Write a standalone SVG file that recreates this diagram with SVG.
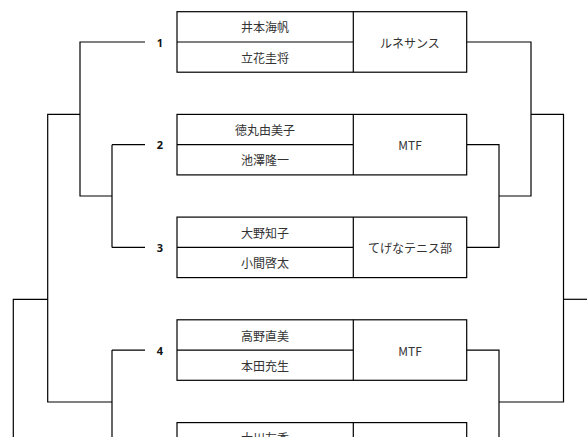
<svg xmlns="http://www.w3.org/2000/svg" width="587" height="437" viewBox="0 0 587 437">
<style>
.box{fill:#fff;stroke:#000;stroke-width:1.2}
.ln{fill:none;stroke:#000;stroke-width:1.2}
.t{font-family:"Noto Sans CJK JP","Noto Sans",sans-serif;font-size:12px;fill:#333;text-anchor:middle;dominant-baseline:central}
.n{font-family:"Noto Sans","Noto Sans CJK JP",sans-serif;font-size:11px;font-weight:bold;fill:#111;text-anchor:middle;dominant-baseline:central}
</style>
<rect width="587" height="437" fill="#fff"/>
<g id="connectors">
<path class="ln" d="M145 42H80V196H112M112 144.7H145M112 247.4H145M112 144.7V247.4"/>
<path class="ln" d="M80 114.3H47.7V402H112M112 350.1H145M112 350.1V437"/>
<path class="ln" d="M47.7 299.3H13.3V437"/>
<path class="ln" d="M466.7 42H531V196H499M466.7 144.7H499V247.4H466.7"/>
<path class="ln" d="M531 114.3H563.5V402H499M466.7 350.1H499V437"/>
<path class="ln" d="M563.5 299.3H587"/>
</g>
<g id="match1">
<rect class="box" x="177" y="11.7" width="289.7" height="60.5"/>
<path class="ln" d="M177 42H353.3M353.3 11.7V72.2"/>
<text class="t" x="265" y="26.9">井本海帆</text>
<text class="t" x="265" y="57.1">立花圭将</text>
<text class="t" x="410" y="42">ルネサンス</text>
<text class="n" x="160" y="42">1</text>
</g>
<g id="match2">
<rect class="box" x="177" y="114.4" width="289.7" height="60.5"/>
<path class="ln" d="M177 144.7H353.3M353.3 114.4V174.9"/>
<text class="t" x="265" y="129.6">徳丸由美子</text>
<text class="t" x="265" y="159.8">池澤隆一</text>
<text class="t" x="410" y="144.7">MTF</text>
<text class="n" x="160" y="144.7">2</text>
</g>
<g id="match3">
<rect class="box" x="177" y="217.1" width="289.7" height="60.5"/>
<path class="ln" d="M177 247.4H353.3M353.3 217.1V277.6"/>
<text class="t" x="265" y="232.3">大野知子</text>
<text class="t" x="265" y="262.5">小間啓太</text>
<text class="t" x="410" y="247.4">てげなテニス部</text>
<text class="n" x="160" y="247.4">3</text>
</g>
<g id="match4">
<rect class="box" x="177" y="319.8" width="289.7" height="60.5"/>
<path class="ln" d="M177 350.1H353.3M353.3 319.8V380.3"/>
<text class="t" x="265" y="335">高野直美</text>
<text class="t" x="265" y="365.2">本田充生</text>
<text class="t" x="410" y="350.1">MTF</text>
<text class="n" x="160" y="350.1">4</text>
</g>
<g id="match5">
<rect class="box" x="177" y="422.6" width="289.7" height="60.5"/>
<path class="ln" d="M177 452.9H353.3M353.3 422.6V483.1"/>
<text class="t" x="265" y="437.8">大川友香</text>
</g>
</svg>
